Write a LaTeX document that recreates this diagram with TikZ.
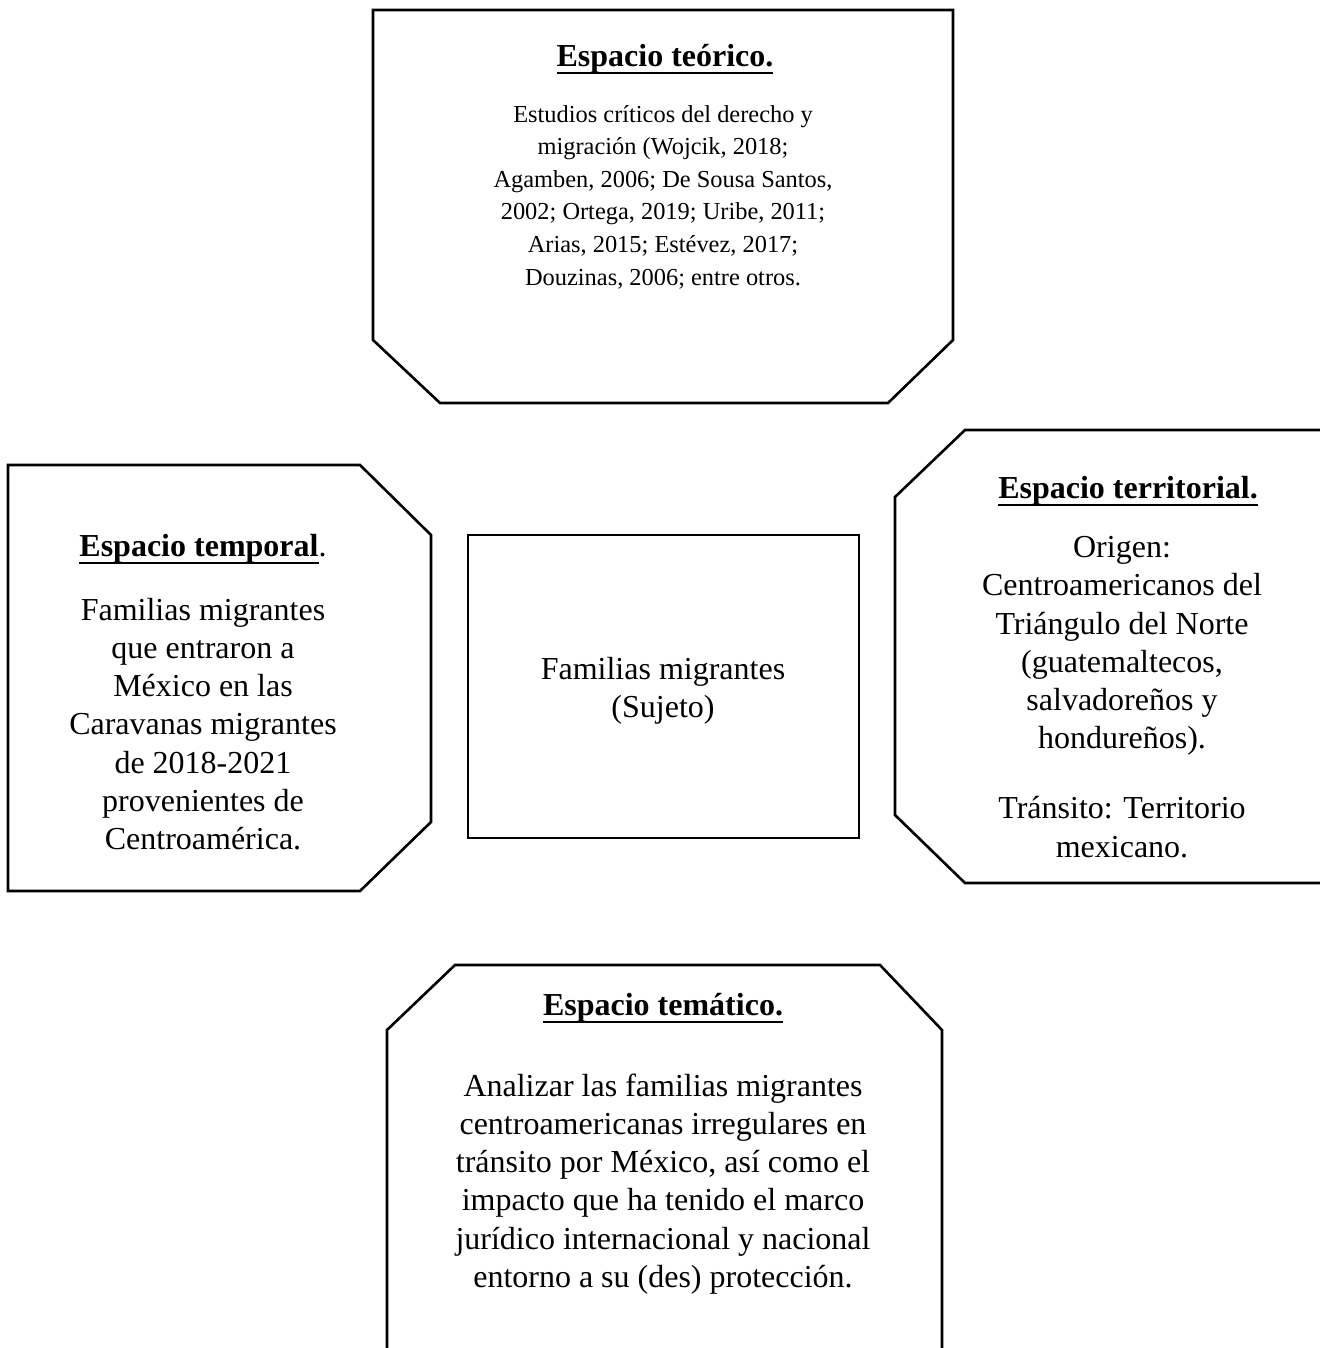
\documentclass[tikz,border=0pt]{standalone}
\usepackage{fontspec}
\setmainfont{Liberation Serif}
\newcommand\myul[1]{\setbox0\hbox{#1}\rlap{\rule[-4pt]{\wd0}{1.3pt}}\box0}
\tikzset{
  frame/.style={draw=black, line width=1.3pt, line join=miter},
  body/.style={align=center, inner sep=0pt, font=\fontsize{16}{19.1}\selectfont},
  smallbody/.style={align=center, inner sep=0pt, font=\fontsize{12.2}{16.3}\selectfont},
  ttl/.style={inner sep=0pt, font=\fontsize{16}{19}\selectfont\bfseries},
}
\begin{document}
\begin{tikzpicture}[x=0.5pt,y=-0.5pt]
\useasboundingbox (0,0) rectangle (1319,1348);
% shapes
\draw[frame] (373,10) -- (953,10) -- (953,340) -- (888,403) -- (440,403) -- (373,340) -- cycle;
\draw[frame] (8,465) -- (360,465) -- (431,535) -- (431,822) -- (360,891) -- (8,891) -- cycle;
\draw[frame] (468,535) rectangle (859,838);
\draw[frame] (1330,430) -- (965,430) -- (895,497) -- (895,815) -- (965,883) -- (1330,883);
\draw[frame] (387,1360) -- (387,1030) -- (455,965) -- (880,965) -- (942,1030) -- (942,1360);
% texts
\node[ttl] (t1) at (665,59) {\myul{Espacio teórico.}};
\node[smallbody] (b1) at (663,197) {Estudios críticos del derecho y\\migración (Wojcik, 2018;\\Agamben, 2006; De Sousa Santos,\\2002; Ortega, 2019; Uribe, 2011;\\Arias, 2015; Estévez, 2017;\\Douzinas, 2006; entre otros.};
\node[ttl] (t2) at (203,549) {\myul{Espacio temporal}\mdseries.};
\node[body] (b2) at (203,724) {Familias migrantes\\que entraron a\\México en las\\Caravanas migrantes\\de 2018-2021\\provenientes de\\Centroamérica.};
\node[body] (c) at (663,691) {Familias migrantes\\(Sujeto)};
\node[ttl] (t3) at (1128,491) {\myul{Espacio territorial.}};
\node[body] (b3) at (1122,646) {Origen:\\Centroamericanos del\\Triángulo del Norte\\(guatemaltecos,\\salvadoreños y\\hondureños).};
\node[body] (b4) at (1122,827) {Tránsito: Territorio\\mexicano.};
\node[ttl] (t4) at (663,1008) {\myul{Espacio temático.}};
\node[body] (b5) at (663,1184) {Analizar las familias migrantes\\centroamericanas irregulares en\\tránsito por México, así como el\\impacto que ha tenido el marco\\jurídico internacional y nacional\\entorno a su (des) protección.};
\end{tikzpicture}
\end{document}
